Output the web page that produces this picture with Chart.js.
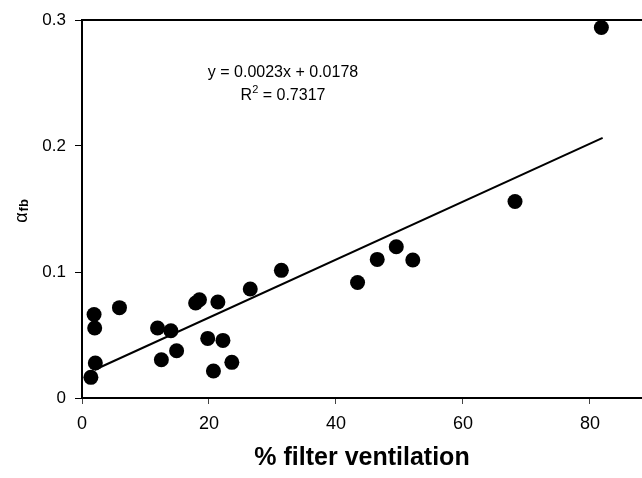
<!DOCTYPE html>
<html>
<head>
<meta charset="utf-8">
<script src="https://cdn.jsdelivr.net/npm/chart.js@4.4.1/dist/chart.umd.min.js"></script>
<style>
  html, body { margin: 0; padding: 0; background: #fff; }
  #wrap { width: 642px; height: 478px; }
</style>
</head>
<body>
<div id="wrap"><canvas id="alphaChart" width="642" height="478"></canvas></div>
<script>
// filter ventilation (%) vs alpha_fb
const ventilacion = [1.4, 2.1, 2.0, 1.9, 5.9, 11.9, 14.0, 12.5, 14.9, 17.9, 18.5, 21.4,
  19.8, 22.2, 20.7, 23.6, 26.5, 31.4, 43.4, 46.5, 49.5, 52.1, 68.2, 81.8];
const alphaFb = [0.0164, 0.0278, 0.0556, 0.0663, 0.0717, 0.0556, 0.0534, 0.0304, 0.0375, 0.0754, 0.078, 0.0762,
  0.0473, 0.0457, 0.0214, 0.0283, 0.0865, 0.1013, 0.0917, 0.110, 0.120, 0.1095, 0.156, 0.294];

// trend line ends as drawn
const trendX = [2, 82];
const trendY = [0.0224, 0.2064];

const xTicks = [0, 20, 40, 60, 80];
const yTicks = [0, 0.1, 0.2, 0.3];
const yTickLabels = ["0", "0.1", "0.2", "0.3"];

const eqLine = "y = 0.0023x + 0.0178";
const r2Value = "0.7317";

const fuente = '"Liberation Sans", Arial, sans-serif';

const extras = {
  id: "extras",
  afterDraw(chart) {
    const { ctx, chartArea: a } = chart;
    ctx.save();
    // top frame line
    ctx.strokeStyle = "#000";
    ctx.lineWidth = 2;
    ctx.beginPath();
    ctx.moveTo(a.left - 1, a.top);
    ctx.lineTo(a.right, a.top);
    ctx.stroke();

    ctx.fillStyle = "#000";
    // equation
    ctx.font = "16px " + fuente;
    ctx.textAlign = "center";
    ctx.textBaseline = "alphabetic";
    const cx = 283;
    ctx.fillText(eqLine, cx, 77);

    // R^2 line
    ctx.textAlign = "left";
    const big = "16px " + fuente, small = "11px " + fuente;
    ctx.font = big;
    const wR = ctx.measureText("R").width;
    const wRest = ctx.measureText(" = " + r2Value).width;
    ctx.font = small;
    const w2 = ctx.measureText("2").width;
    let sx = cx - (wR + w2 + wRest) / 2;
    ctx.font = big;
    ctx.fillText("R", sx, 100);
    ctx.font = small;
    ctx.fillText("2", sx + wR, 93);
    ctx.font = big;
    ctx.fillText(" = " + r2Value, sx + wR + w2, 100);

    // y axis title: alpha with subscript fb
    ctx.translate(27, 211);
    ctx.rotate(-Math.PI / 2);
    const ga = "18px " + fuente, gs = "bold 13px " + fuente;
    ctx.font = ga;
    const wa = ctx.measureText("\u03b1").width;
    ctx.font = gs;
    const wfb = ctx.measureText("fb").width;
    const start = -(wa + wfb + 1) / 2;
    ctx.font = ga;
    ctx.fillText("\u03b1", start, 0);
    ctx.font = gs;
    ctx.fillText("fb", start + wa + 1, 1);
    ctx.restore();
  },
};

const ctx = document.getElementById("alphaChart").getContext("2d");
const chart = new Chart(ctx, {
  type: "scatter",
  data: {
    datasets: [
      {
        label: "datos",
        data: ventilacion.map((v, i) => ({ x: v, y: alphaFb[i] })),
        backgroundColor: "#000",
        borderWidth: 0,
        pointRadius: 7.5,
        pointHoverRadius: 7.5,
        order: 1,
      },
      {
        type: "line",
        label: "tendencia",
        data: trendX.map((v, i) => ({ x: v, y: trendY[i] })),
        borderColor: "#000",
        borderWidth: 2,
        pointRadius: 0,
        fill: false,
        order: 2,
      },
    ],
  },
  options: {
    responsive: false,
    animation: false,
    devicePixelRatio: 1,
    clip: false,
    layout: { autoPadding: false, padding: { top: 20, right: 0, left: 0, bottom: 0 } },
    plugins: {
      legend: { display: false },
      tooltip: { enabled: false },
    },
    scales: {
      x: {
        type: "linear",
        min: 0,
        max: 88.2,
        afterBuildTicks: (scale) => {
          scale.ticks = xTicks.map((v) => ({ value: v }));
        },
        afterFit: (scale) => {
          scale.height = 80;
        },
        border: { display: true, color: "#000", width: 2 },
        grid: { drawOnChartArea: false, tickLength: 6, color: "#444", lineWidth: 1 },
        ticks: {
          color: "#000",
          padding: 9,
          font: { family: fuente, size: 18 },
          maxRotation: 0,
        },
        title: {
          display: true,
          text: "% filter ventilation",
          color: "#000",
          font: { family: fuente, size: 25, weight: "bold" },
          padding: { top: 0, bottom: 5 },
        },
      },
      y: {
        type: "linear",
        min: 0,
        max: 0.3,
        afterBuildTicks: (scale) => {
          scale.ticks = yTicks.map((v) => ({ value: v }));
        },
        afterFit: (scale) => {
          scale.width = 82;
        },
        border: { display: true, color: "#000", width: 2 },
        grid: { drawOnChartArea: false, tickLength: 7, color: "#000", lineWidth: 1 },
        ticks: {
          color: "#000",
          padding: 9,
          font: { family: fuente, size: 17 },
          callback: function (value, index) {
            return yTickLabels[index];
          },
        },
      },
    },
  },
  plugins: [extras],
});
</script>
</body>
</html>
